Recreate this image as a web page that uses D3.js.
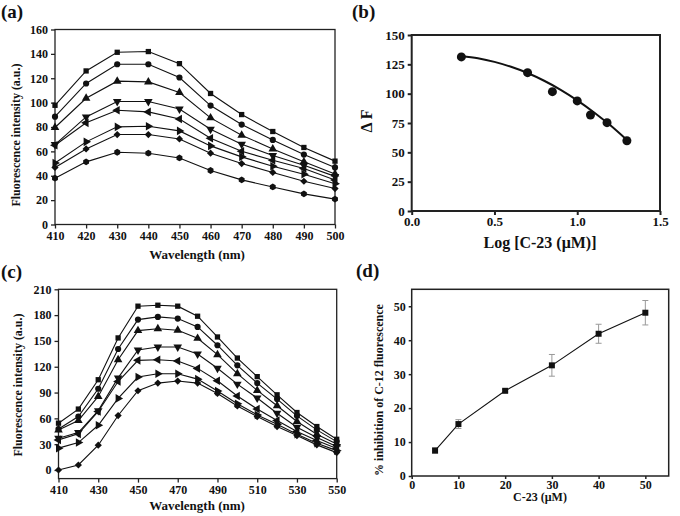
<!DOCTYPE html>
<html>
<head>
<meta charset="utf-8">
<script src="https://cdn.jsdelivr.net/npm/d3@7"></script>
<style>
  body { margin: 0; background: #fff; }
  svg { display: block; }
  text { font-family: "Liberation Serif", "Times New Roman", serif; font-weight: bold; fill: #111; }
</style>
</head>
<body>
<div id="chart"></div>
<script>
/* DATA */

// panel (a) : emission spectra, 410-500 nm
const wavelengthA = [410, 420, 430, 440, 450, 460, 470, 480, 490, 500];
const aSquare   = [97.8, 126, 141.3, 141.9, 132, 107.5, 90.2, 76.3, 63.2, 52];
const aCircle   = [88.5, 115.7, 131.5, 131.5, 120.6, 97.6, 82, 69.4, 57.4, 46.8];
const aUp       = [79.6, 103.6, 117.6, 117, 108.3, 87.5, 73.3, 62, 51.4, 41.5];
const aDown     = [65.6, 88.3, 100.9, 100.9, 94.8, 78.2, 65.9, 56.6, 48.6, 39.5];
const aLeft     = [65, 83.4, 93.8, 92.4, 86.6, 70.8, 60.1, 52.7, 45.9, 36.5];
const aRight    = [50.5, 67.8, 80.1, 80.6, 76.8, 64.5, 55.5, 47.8, 41.3, 33.5];
const aDiamond  = [46.8, 62, 73.8, 73.8, 70.2, 58.5, 50, 42.7, 35.5, 29.5];
const aHexagon  = [38, 51.4, 59.3, 58.5, 54.6, 44.3, 36.6, 30.8, 25.1, 20.8];

// panel (b) : delta F vs log concentration
const logC   = [0.3, 0.7, 0.85, 1.0, 1.08, 1.18, 1.3];
const deltaF = [131.3, 117.9, 101.7, 93.8, 81.8, 75.3, 59.9];
// fitted curve
const fitLogC   = [0.3, 0.4, 0.5, 0.6, 0.7, 0.8, 0.9, 1.0, 1.1, 1.2, 1.3];
const fitDeltaF = [132.2, 130.2, 127.1, 122.9, 117.6, 111, 103.3, 94.3, 84.2, 73.0, 60.5];

// panel (c) : emission spectra, 410-550 nm
const wavelengthC = [410, 420, 430, 440, 450, 460, 470, 480, 490, 500, 510, 520, 530, 540, 550];
const cSquare  = [54.4, 70.8, 104.9, 153.5, 190.4, 191.5, 190.4, 178.7, 154.6, 130.1, 108.5, 87.4, 66.8, 50.5, 35.7];
const cCircle  = [47.6, 62.1, 94.4, 140.6, 174.8, 177.9, 176, 166.3, 145, 121.6, 101, 82.4, 62.9, 46.6, 33];
const cUp      = [46.5, 57.4, 85.5, 128.2, 162, 164.2, 162.4, 153, 134, 111.9, 92.5, 74.6, 56.3, 41.6, 30.3];
const cDown    = [36.9, 43.5, 69, 107, 139.5, 142.9, 142.9, 134.8, 118.3, 99.8, 83.6, 66, 49.7, 37.7, 27.2];
const cLeft    = [35, 42, 68, 102.8, 127.4, 128.2, 126.6, 118.1, 103.7, 86, 70.8, 57.5, 44.7, 34.2, 24.9];
const cRight   = [25.4, 31.9, 52, 83.2, 108, 111.9, 111.9, 105.6, 91.7, 77, 64, 53.2, 41.6, 31.1, 22.5];
const cDiamond = [0, 5.8, 28.8, 63.3, 92.1, 101, 103.4, 101, 89, 74.4, 62.1, 50.5, 40, 29.2, 20.2];

// panel (d) : % inhibition vs concentration
const conc       = [5, 10, 20, 30, 40, 50];
const inhibition = [7.5, 15.3, 25.1, 32.6, 41.9, 48.1];
const inhibErr   = [0.8, 1.3, 0.4, 3.2, 2.8, 3.6];

// tick labels
const ticksAx = [410, 420, 430, 440, 450, 460, 470, 480, 490, 500];
const ticksAy = [0, 20, 40, 60, 80, 100, 120, 140, 160];
const ticksBx = [0, 0.5, 1.0, 1.5];
const ticksBy = [0, 25, 50, 75, 100, 125, 150];
const ticksCx = [410, 430, 450, 470, 490, 510, 530, 550];
const ticksCy = [0, 30, 60, 90, 120, 150, 180, 210];
const ticksDx = [0, 10, 20, 30, 40, 50];
const ticksDy = [0, 10, 20, 30, 40, 50];

/* SYMBOLS */
const hexagon = {
  draw(context, size) {
    const r = Math.sqrt(size / (1.5 * Math.sqrt(3)));
    for (let i = 0; i < 6; i++) {
      const a = Math.PI / 6 + i * Math.PI / 3;
      if (i === 0) context.moveTo(r * Math.cos(a), r * Math.sin(a));
      else context.lineTo(r * Math.cos(a), r * Math.sin(a));
    }
    context.closePath();
  }
};
const markers = {
  square:  [d3.symbolSquare, 0, 28],
  circle:  [d3.symbolCircle, 0, 30],
  up:      [d3.symbolTriangle, 0, 32],
  down:    [d3.symbolTriangle, 180, 32],
  left:    [d3.symbolTriangle, -90, 32],
  right:   [d3.symbolTriangle, 90, 32],
  diamond: [d3.symbolSquare, 45, 26],
  hexagon: [hexagon, 0, 30]
};

const svg = d3.select("#chart").append("svg")
  .attr("width", 680)
  .attr("height", 516);

/* HELPERS */
function makePanel(box, xDomain, yDomain, xTicks, yTicks, xFmt, yFmt, opt) {
  const x = d3.scaleLinear().domain(xDomain).range([box.left, box.right]);
  const y = d3.scaleLinear().domain(yDomain).range([box.bottom, box.top]);

  const xa = svg.append("g")
    .attr("transform", `translate(0,${box.bottom})`)
    .call(d3.axisBottom(x).tickValues(xTicks).tickFormat(xFmt).tickSize(opt.tick).tickPadding(opt.xpad));
  const ya = svg.append("g")
    .attr("transform", `translate(${box.left},0)`)
    .call(d3.axisLeft(y).tickValues(yTicks).tickFormat(yFmt).tickSize(opt.tick).tickPadding(3));

  [xa, ya].forEach(g => {
    g.attr("font-size", opt.font).attr("font-family", null);
    g.select(".domain").remove();
    g.selectAll("line").attr("stroke", "#222").attr("stroke-width", opt.stroke);
    g.selectAll("text").attr("fill", "#111");
  });

  svg.append("rect")
    .attr("x", box.left).attr("y", box.top)
    .attr("width", box.right - box.left).attr("height", box.bottom - box.top)
    .attr("fill", "none").attr("stroke", "#222").attr("stroke-width", opt.stroke);

  return { x, y };
}

function drawSeries(p, xs, values, marker, size) {
  svg.append("path")
    .datum(values)
    .attr("fill", "none")
    .attr("stroke", "#111")
    .attr("stroke-width", 1.1)
    .attr("d", d3.line().x((d, i) => p.x(xs[i])).y(d => p.y(d)));
  const m = markers[marker];
  svg.append("g").selectAll("path")
    .data(values)
    .join("path")
    .attr("d", d3.symbol().type(m[0]).size(size || m[2]))
    .attr("transform", (d, i) => `translate(${p.x(xs[i])},${p.y(d)}) rotate(${m[1]})`)
    .attr("fill", "#111");
}

function label(txt, x, y, size, rotate) {
  svg.append("text")
    .attr("transform", `translate(${x},${y})` + (rotate ? " rotate(-90)" : ""))
    .attr("text-anchor", "middle")
    .attr("font-size", size)
    .text(txt);
}

/* PANEL (a) */
const pA = makePanel({ left: 55, right: 335, top: 29.5, bottom: 224.5 },
  [410, 500], [0, 160], ticksAx, ticksAy, d3.format("d"), d3.format("d"),
  { tick: 4, xpad: 3, font: 12, stroke: 1.3 });
drawSeries(pA, wavelengthA, aSquare, "square");
drawSeries(pA, wavelengthA, aCircle, "circle");
drawSeries(pA, wavelengthA, aUp, "up");
drawSeries(pA, wavelengthA, aDown, "down");
drawSeries(pA, wavelengthA, aLeft, "left");
drawSeries(pA, wavelengthA, aRight, "right");
drawSeries(pA, wavelengthA, aDiamond, "diamond");
drawSeries(pA, wavelengthA, aHexagon, "hexagon");
label("Fluorescence intensity (a.u.)", 20, 135, 12, true);
label("Wavelength (nm)", 197, 259, 13);
svg.append("text").attr("x", 1).attr("y", 18).attr("font-size", 19).text("(a)");

/* PANEL (b) */
const pB = makePanel({ left: 411.7, right: 660, top: 35, bottom: 211 },
  [0, 1.5], [0, 150], ticksBx, ticksBy, d3.format(".1f"), d3.format("d"),
  { tick: 4, xpad: 2, font: 13, stroke: 2 });
svg.append("path")
  .datum(fitDeltaF)
  .attr("fill", "none")
  .attr("stroke", "#111")
  .attr("stroke-width", 2)
  .attr("d", d3.line().curve(d3.curveMonotoneX).x((d, i) => pB.x(fitLogC[i])).y(d => pB.y(d)));
svg.append("g").selectAll("circle")
  .data(deltaF)
  .join("circle")
  .attr("cx", (d, i) => pB.x(logC[i]))
  .attr("cy", d => pB.y(d))
  .attr("r", 4.5)
  .attr("fill", "#111");
label("\u0394 F", 372, 121, 16, true);
label("Log [C-23 (\u03bcM)]", 540, 248, 16);
svg.append("text").attr("x", 352).attr("y", 18).attr("font-size", 19).text("(b)");

/* PANEL (c) */
const pC = makePanel({ left: 58.5, right: 336.7, top: 289.3, bottom: 478.6 },
  [410, 550], [-10, 210], ticksCx, ticksCy, d3.format("d"), d3.format("d"),
  { tick: 4, xpad: 3, font: 12, stroke: 1.3 });
drawSeries(pC, wavelengthC, cSquare, "square");
drawSeries(pC, wavelengthC, cCircle, "circle");
drawSeries(pC, wavelengthC, cUp, "up");
drawSeries(pC, wavelengthC, cDown, "down");
drawSeries(pC, wavelengthC, cLeft, "left");
drawSeries(pC, wavelengthC, cRight, "right");
drawSeries(pC, wavelengthC, cDiamond, "diamond");
label("Fluorescence intensity (a.u.)", 22, 385, 12, true);
label("Wavelength (nm)", 197, 510, 13);
svg.append("text").attr("x", 1).attr("y", 278).attr("font-size", 19).text("(c)");

/* PANEL (d) */
const pD = makePanel({ left: 411.7, right: 668.7, top: 289.3, bottom: 476 },
  [0, 55], [0, 55], ticksDx, ticksDy, d3.format("d"), d3.format("d"),
  { tick: 3, xpad: 1, font: 12, stroke: 1.5 });
// error bars
const eb = svg.append("g").attr("stroke", "#999").attr("stroke-width", 1);
conc.forEach((c, i) => {
  const cx = pD.x(c);
  const y0 = pD.y(inhibition[i] - inhibErr[i]);
  const y1 = pD.y(inhibition[i] + inhibErr[i]);
  eb.append("line").attr("x1", cx).attr("x2", cx).attr("y1", y0).attr("y2", y1);
  eb.append("line").attr("x1", cx - 3).attr("x2", cx + 3).attr("y1", y0).attr("y2", y0);
  eb.append("line").attr("x1", cx - 3).attr("x2", cx + 3).attr("y1", y1).attr("y2", y1);
});
drawSeries(pD, conc, inhibition, "square", 36);
label("% inhibition of C-12 fluorescence", 383, 390, 12, true);
label("C-23 (\u03bcM)", 540, 501, 12);
svg.append("text").attr("x", 356).attr("y", 277).attr("font-size", 19).text("(d)");
</script>
</body>
</html>
